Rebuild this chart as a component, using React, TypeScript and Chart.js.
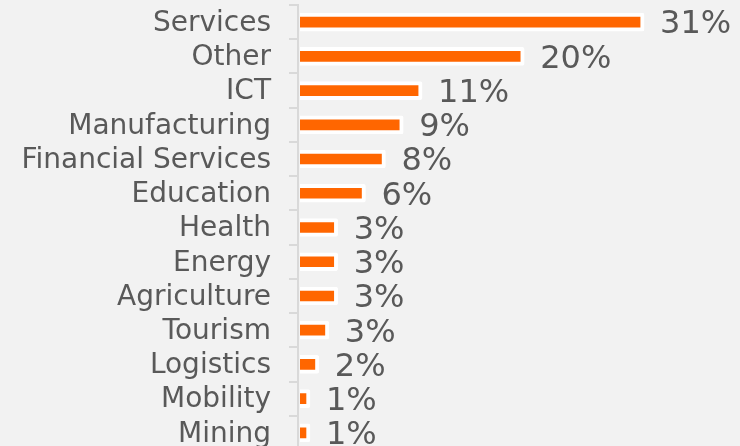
import React, { useEffect, useRef } from "react";
import { Chart, registerables } from "chart.js";

Chart.register(...registerables);

const categories = [
  "Services",
  "Other",
  "ICT",
  "Manufacturing",
  "Financial Services",
  "Education",
  "Health",
  "Energy",
  "Agriculture",
  "Tourism",
  "Logistics",
  "Mobility",
  "Mining",
];
const shares = [31, 20.2, 11, 9.3, 7.7, 5.9, 3.4, 3.4, 3.4, 2.6, 1.7, 0.9, 0.9];
const shareLabels = ["31%", "20%", "11%", "9%", "8%", "6%", "3%", "3%", "3%", "3%", "2%", "1%", "1%"];

const FONT = "'DejaVu Sans', Verdana, sans-serif";
const TEXT = "#595959";

const valueLabels = {
  id: "valueLabels",
  afterDatasetsDraw(chart: any) {
    const ctx = chart.ctx;
    const meta = chart.getDatasetMeta(0);
    ctx.save();
    ctx.font = `32px ${FONT}`;
    ctx.fillStyle = TEXT;
    ctx.textAlign = "left";
    ctx.textBaseline = "middle";
    meta.data.forEach((bar: any, i: number) => {
      ctx.fillText(shareLabels[i], bar.x + 16, bar.y + 3);
    });
    ctx.restore();
  },
};

export default function App() {
  const ref = useRef<HTMLCanvasElement | null>(null);
  useEffect(() => {
    if (!ref.current) return;
    const chart = new Chart(ref.current, {
      type: "bar",
      data: {
        labels: categories,
        datasets: [
          {
            data: shares,
            backgroundColor: "#ff6600",
            borderColor: "#ffffff",
            borderWidth: 4,
            borderSkipped: "start",
            borderRadius: 2,
            barThickness: 18,
          },
        ],
      },
      options: {
        indexAxis: "y",
        animation: false,
        responsive: true,
        maintainAspectRatio: false,
        layout: { padding: { top: 5, bottom: 2, left: 0, right: 8 } },
        plugins: {
          legend: { display: false },
          tooltip: { enabled: false },
        },
        scales: {
          x: {
            display: false,
            min: -0.18,
            max: 38.92,
          },
          y: {
            afterFit: (scale: any) => {
              scale.width = 298;
              scale.paddingTop = 0;
              scale.paddingBottom = 0;
            },
            border: { display: true, color: "#d9d9d9", width: 2 },
            grid: {
              display: true,
              drawOnChartArea: false,
              drawTicks: true,
              tickLength: 9,
              lineWidth: 2,
              color: "#d9d9d9",
              offset: true,
            },
            ticks: {
              color: TEXT,
              padding: 18,
              labelOffset: 1.5,
              font: { family: FONT, size: 28 },
              autoSkip: false,
            },
          },
        },
      },
      plugins: [valueLabels],
    });
    return () => chart.destroy();
  }, []);
  return (
    <div
      style={{
        position: "fixed",
        top: 0,
        left: 0,
        width: 740,
        height: 452,
        background: "#f2f2f2",
      }}
    >
      <canvas ref={ref} />
    </div>
  );
}
